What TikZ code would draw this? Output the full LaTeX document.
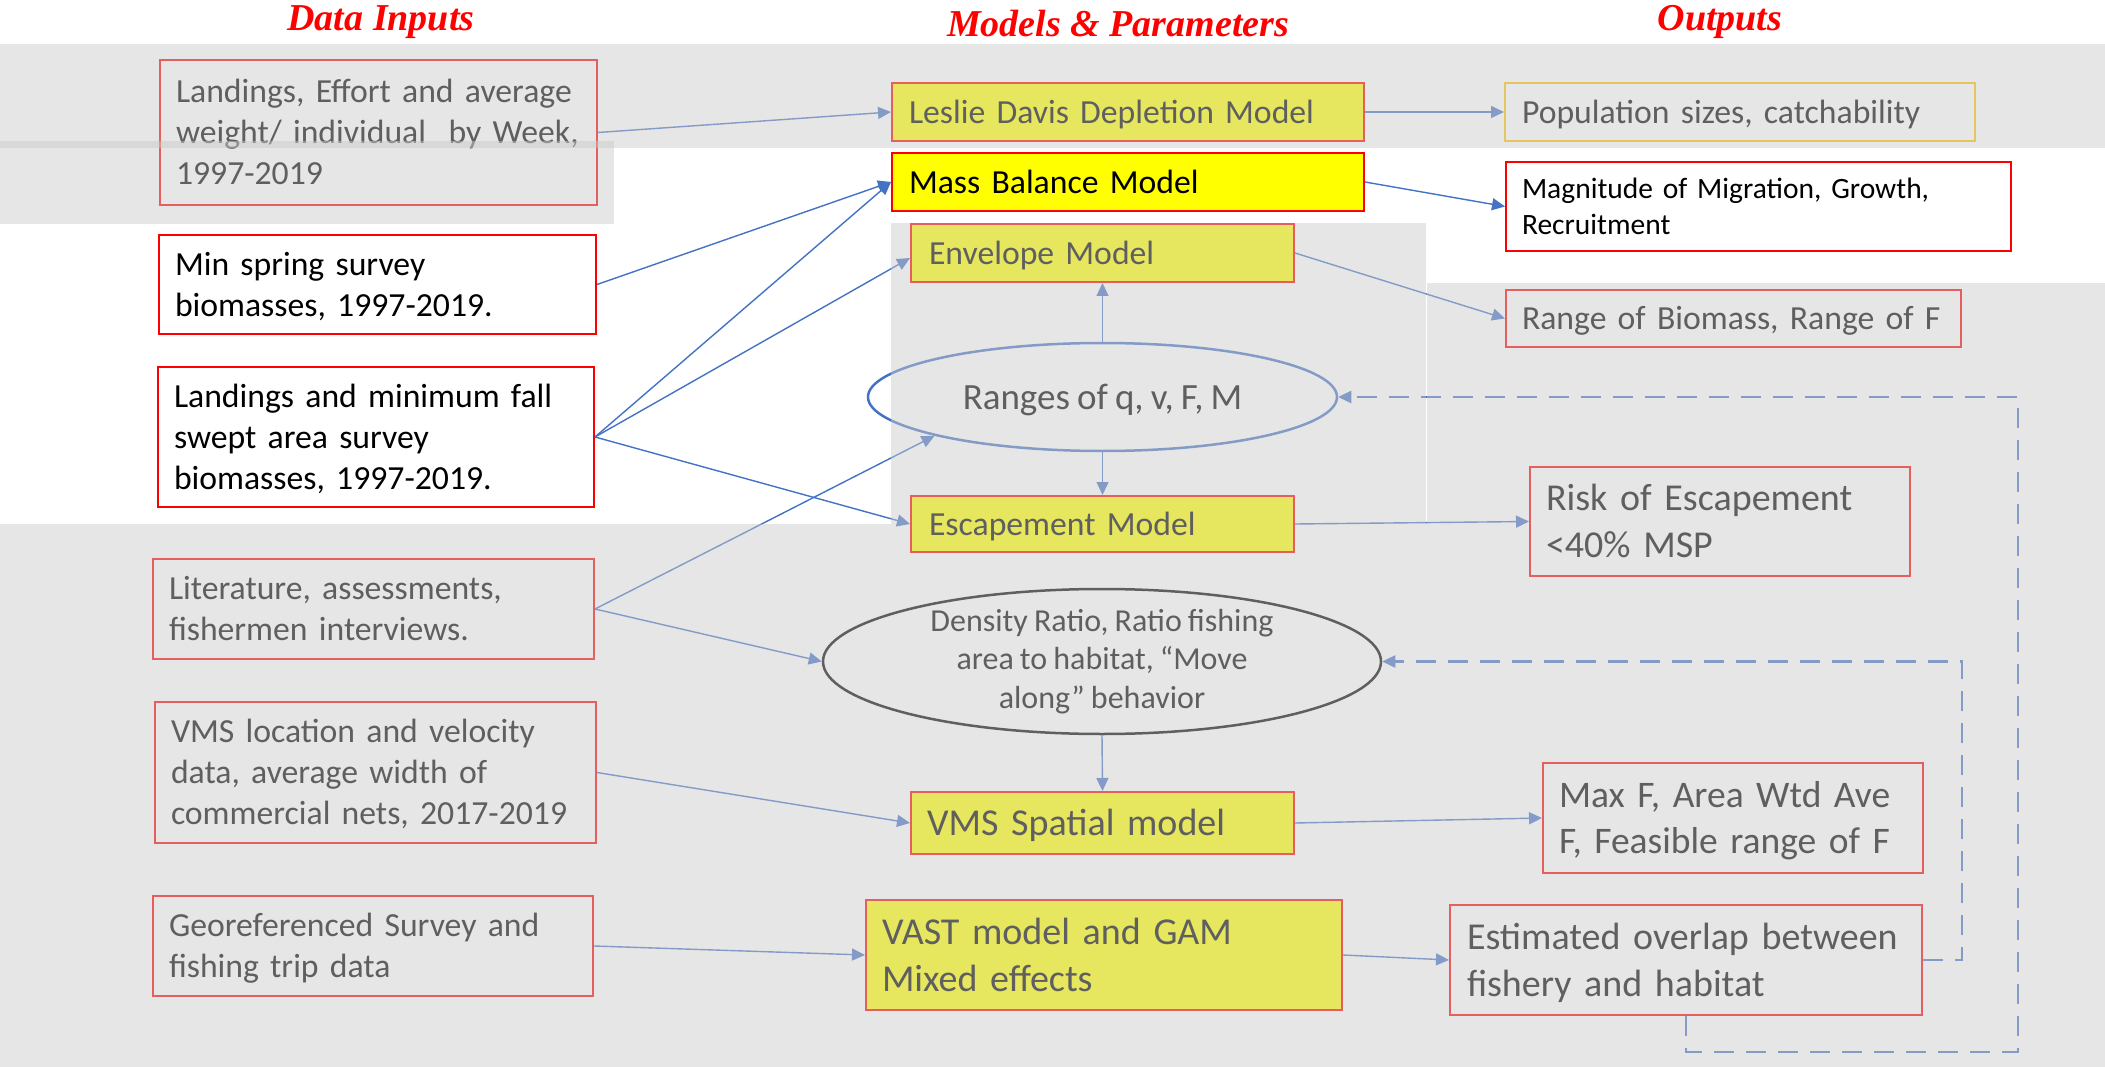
\documentclass[tikz,border=0pt]{standalone}
\usepackage{fontspec}
\setmainfont{Carlito}[WordSpace=0.85]
\newfontfamily\headserif{Liberation Serif}
\usetikzlibrary{arrows.meta,shapes.geometric}
\newcommand\fsz[2]{\fontsize{#1pt}{#2pt}\selectfont}
% invisible strut that sets the line's height and depth around the baseline
\newcommand\tstrut{\rule[-0.23\baselineskip]{0pt}{\baselineskip}}
\definecolor{rd}{HTML}{FF0000}
\definecolor{yl}{HTML}{FFFF00}
\definecolor{bl}{HTML}{4472C4}
\definecolor{gd}{HTML}{FFC000}
\definecolor{veilgray}{HTML}{CACACA}
\begin{document}
\begin{tikzpicture}[x=1pt,y=-1pt,
  head/.style={font={\headserif\bfseries\itshape\fsz{38}{44}}, text=rd, anchor=base, inner sep=0pt},
  plainbox/.style={draw=rd, line width=2pt, anchor=north west, inner xsep=16pt, inner ysep=0pt,
    align=left, text=black, font={\fsz{33.7}{41}},
    execute at begin node={\tstrut}, execute at end node={\tstrut}},
  inbox/.style={plainbox, fill=white},
  modelbox/.style={plainbox, fill=yl},
  outbox/.style={plainbox, fill=white},
  conn/.style={draw=bl, line width=1.4pt, -{Triangle[length=13pt,width=12pt]}},
  fbline/.style={draw=bl, line width=2.5pt, dash pattern=on 20pt off 12pt, -{Triangle[length=13pt,width=12pt]}},
  veilfill/.style={fill=veilgray, fill opacity=0.47}]

\useasboundingbox (0,0) rectangle (2105,1067);
\fill[white] (0,0) rectangle (2105,1067);

% column headings
\node[head] (hIn)  at (381,31)  {Data Inputs};
\node[head] (hMod) at (1118,37) {Models \& Parameters};
\node[head] (hOut) at (1720,31) {Outputs};

% data inputs
\node[inbox, minimum width=437pt, minimum height=145pt, text width=405pt] (inA) at (159,59)
  {\mbox{Landings, Effort and average}\\\mbox{weight/ individual\ \ by Week,}\\1997-2019};
\node[inbox, minimum width=437pt, minimum height=99pt, text width=405pt] (inB) at (158,234)
  {\mbox{Min spring survey}\\\mbox{biomasses, 1997-2019.}};
\node[inbox, minimum width=436pt, minimum height=140pt, text width=404pt] (inC) at (157,366)
  {\mbox{Landings and minimum fall}\\\mbox{swept area survey}\\\mbox{biomasses, 1997-2019.}};
\node[inbox, minimum width=441pt, minimum height=100pt, text width=409pt] (inD) at (152,558)
  {\mbox{Literature, assessments,}\\\mbox{fishermen interviews.}};
\node[inbox, minimum width=441pt, minimum height=141pt, text width=409pt] (inE) at (154,701)
  {\mbox{VMS location and velocity}\\\mbox{data, average width of}\\\mbox{commercial nets, 2017-2019}};
\node[inbox, minimum width=440pt, minimum height=100pt, text width=408pt] (inF) at (152,895)
  {\mbox{Georeferenced Survey and}\\\mbox{fishing trip data}};

% models and parameters
\node[modelbox, minimum width=472pt, minimum height=58pt, text width=438pt, inner xsep=17pt] (mLes) at (891,82)
  {\mbox{Leslie Davis Depletion Model}};
\node[modelbox, minimum width=472pt, minimum height=58pt, text width=438pt, inner xsep=17pt] (mMB) at (891,152)
  {\mbox{Mass Balance Model}};
\node[modelbox, minimum width=383pt, minimum height=58pt, text width=347pt, inner xsep=18pt] (mEnv) at (910,223)
  {\mbox{Envelope Model}};
\node[ellipse, draw=bl, line width=2.5pt, minimum width=469pt, minimum height=108pt, inner sep=0pt,
  font={\fsz{37}{45}}] (mRng) at (1102.5,397) {\tstrut Ranges of q, v, F, M};
\node[modelbox, minimum width=383pt, minimum height=56pt, text width=347pt, inner xsep=18pt] (mEsc) at (910,495)
  {\mbox{Escapement Model}};
\node[ellipse, draw=black, line width=2.5pt, minimum width=558pt, minimum height=145pt, inner xsep=0pt,
  inner ysep=-8pt, align=center, font={\fsz{32}{38.5}}] (mDen) at (1102,661.5)
  {Density Ratio, Ratio fishing\\area to habitat, “Move\\along” behavior};
\node[modelbox, minimum width=383pt, minimum height=62pt, text width=351pt, font={\fsz{38}{46}}] (mVMS) at (910,791)
  {\mbox{VMS Spatial model}};
\node[modelbox, minimum width=476pt, minimum height=110pt, text width=444pt, font={\fsz{38}{47}}] (mVAST) at (865,899)
  {\mbox{VAST model and GAM}\\\mbox{Mixed effects}};

% outputs
\node[outbox, draw=gd, minimum width=470pt, minimum height=58pt, text width=436pt, inner xsep=17pt] (oPop) at (1504,82)
  {\mbox{Population sizes, catchability}};
\node[outbox, minimum width=505pt, minimum height=89pt, text width=473pt, font={\fsz{29.5}{36}}] (oMag) at (1505,161)
  {\mbox{Magnitude of Migration, Growth,}\\\mbox{Recruitment}};
\node[outbox, minimum width=455pt, minimum height=57pt, text width=423pt] (oRng) at (1505,289)
  {\mbox{Range of Biomass, Range of F}};
\node[outbox, minimum width=380pt, minimum height=109pt, text width=348pt, font={\fsz{38}{47}}] (oRisk) at (1529,466)
  {\mbox{Risk of Escapement}\\\mbox{<40\% MSP}};
\node[outbox, minimum width=380pt, minimum height=110pt, text width=348pt, font={\fsz{37.5}{46}}] (oMax) at (1542,762)
  {\mbox{Max F, Area Wtd Ave}\\\mbox{F, Feasible range of F}};
\node[outbox, minimum width=472pt, minimum height=110pt, text width=438pt, inner xsep=17pt, font={\fsz{38}{47}}] (oEst) at (1449,904)
  {\mbox{Estimated overlap between}\\\mbox{fishery and habitat}};

% connectors
\draw[conn] (inA.east) -- (mLes.west);
\draw[conn] (mLes.east) -- (oPop.west);
\draw[conn] (mMB.east) -- (oMag.west);
\draw[conn] (inB.east) -- (mMB.west);
\draw[conn] (inC.east) -- (mMB.west);
\draw[conn] (inC.east) -- ([yshift=-5pt]mEnv.west);
\draw[conn] (inC.east) -- (mEsc.west);
\draw[conn] (inD.east) -- (mRng.193);
\draw[conn] (inD.east) -- (mDen.west);
\draw[conn] (mRng.north) -- (mEnv.south);
\draw[conn] (mRng.south) -- (mEsc.north);
\draw[conn] (mEnv.east) -- (oRng.west);
\draw[conn] (mEsc.east) -- (oRisk.west);
\draw[conn] (mDen.south) -- (mVMS.north);
\draw[conn] (inE.east) -- (mVMS.west);
\draw[conn] (mVMS.east) -- (oMax.west);
\draw[conn] (inF.east) -- (mVAST.west);
\draw[conn] (mVAST.east) -- (oEst.west);

% feedback loops
\coordinate (fbCorner) at (2018,1052);
\draw[fbline] (oEst.east) -- ++(39,0) |- (mDen.east);
\draw[fbline] (oEst.south) |- (fbCorner) |- (mRng.east);

% translucent grey panels laid over the greyed-out parts
\fill[veilfill] (0,44) rectangle (2105,148);
\fill[veilfill] (0,141) rectangle (614,224);
\fill[veilfill] (891,223) rectangle (1426,524);
\fill[veilfill] (1427,283) rectangle (2105,524);
\fill[veilfill] (0,524) rectangle (2105,1067);
\end{tikzpicture}
\end{document}
